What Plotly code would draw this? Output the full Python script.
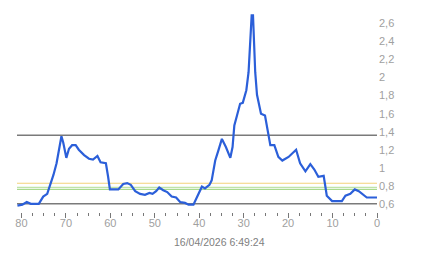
import plotly.graph_objects as go

# Data (x = age, reversed axis)
x_vals = [80.9, 79.8, 78.8, 77.9, 76.1, 75.1, 74.2, 73.6, 72.8, 72.1, 71.6, 71.0,
          70.6, 69.9, 69.3, 68.6, 67.8, 67.1, 65.9, 64.8, 63.9, 62.9, 62.2, 61.0,
          60.5, 60.1, 58.2, 57.1, 56.2, 55.4, 54.4, 53.3, 52.2, 51.2, 50.5, 49.7,
          49.0, 48.1, 47.2, 46.2, 45.2, 44.3, 43.2, 42.4, 41.3, 40.4, 39.4, 38.7,
          37.7, 37.2, 36.4, 35.7, 34.9, 34.0, 33.0, 32.5, 32.1, 31.5, 30.8, 30.2,
          29.4, 28.9, 28.5, 28.3, 28.2, 27.9, 27.8, 27.6, 27.4, 27.0, 26.7, 26.1,
          25.2, 24.8, 24.4, 24.0, 23.1, 22.2, 21.3, 19.9, 18.2, 17.3, 16.1, 15.0,
          14.1, 13.2, 12.0, 11.3, 10.1, 7.9, 7.1, 6.0, 5.0, 4.1, 2.3, 0.0]
y_vals = [0.58, 0.59, 0.62, 0.60, 0.60, 0.68, 0.71, 0.79, 0.92, 1.05, 1.19, 1.35,
          1.28, 1.11, 1.21, 1.25, 1.25, 1.20, 1.14, 1.10, 1.09, 1.13, 1.06, 1.05,
          0.90, 0.76, 0.76, 0.82, 0.83, 0.81, 0.74, 0.71, 0.70, 0.72, 0.71, 0.74,
          0.78, 0.75, 0.73, 0.68, 0.67, 0.62, 0.61, 0.59, 0.59, 0.69, 0.79, 0.77,
          0.81, 0.86, 1.08, 1.19, 1.32, 1.23, 1.11, 1.23, 1.47, 1.58, 1.71, 1.72,
          1.86, 2.06, 2.36, 2.51, 2.69, 2.69, 2.51, 2.32, 2.06, 1.81, 1.73, 1.60,
          1.58, 1.47, 1.38, 1.25, 1.25, 1.12, 1.08, 1.12, 1.20, 1.05, 0.96, 1.04,
          0.98, 0.90, 0.91, 0.69, 0.63, 0.63, 0.69, 0.71, 0.76, 0.74, 0.67, 0.67]

ref_levels = [1.36, 0.828, 0.783, 0.76, 0.6]
ref_colors = ["#7a7a7a", "#f2d27a", "#bfe3a8", "#a8d98e", "#7a7a7a"]
ref_widths = [1.5, 1.2, 1.2, 1.2, 1.5]

x_ticks = [80, 70, 60, 50, 40, 30, 20, 10, 0]
date_label = "16/04/2026 6:49:24"

fig = go.Figure()

for lvl, col, w in zip(ref_levels, ref_colors, ref_widths):
    fig.add_shape(type="line", xref="x", yref="y", x0=81, x1=0, y0=lvl, y1=lvl,
                  line=dict(color=col, width=w), layer="below")

fig.add_trace(go.Scatter(x=x_vals, y=y_vals, mode="lines",
                         line=dict(color="#2b5fd9", width=2.2),
                         hoverinfo="skip", showlegend=False))

fig.update_layout(
    width=443, height=258,
    margin=dict(l=17, r=66, t=10, b=46),
    paper_bgcolor="white", plot_bgcolor="white",
    separators=", ",
    font=dict(family="Liberation Sans, Arial, sans-serif", size=11, color="#a0a0a0"),
    showlegend=False,
    xaxis=dict(range=[81, 0], tickmode="array", tickvals=x_ticks,
               ticks="outside", ticklen=5, tickcolor="#777777", tickwidth=1,
               minor=dict(dtick=2.5, ticks="outside", ticklen=2.5, tickcolor="#777777", tickwidth=1),
               showgrid=False, zeroline=False, showline=False,
               ticklabelstandoff=-4,
               tickfont=dict(size=11, color="#a0a0a0")),
    yaxis=dict(range=[0.509, 2.75], side="right", dtick=0.2, tick0=0,
               showgrid=False, zeroline=False, showline=False, ticks="",
               ticklabelstandoff=1,
               tickfont=dict(size=11, color="#a0a0a0")),
    annotations=[dict(text=date_label, xref="paper", yref="paper",
                      x=0.5636, y=-0.148, xanchor="center", yanchor="middle",
                      showarrow=False, font=dict(size=10.5, color="#808080"))],
)

fig.write_html("out.html")
